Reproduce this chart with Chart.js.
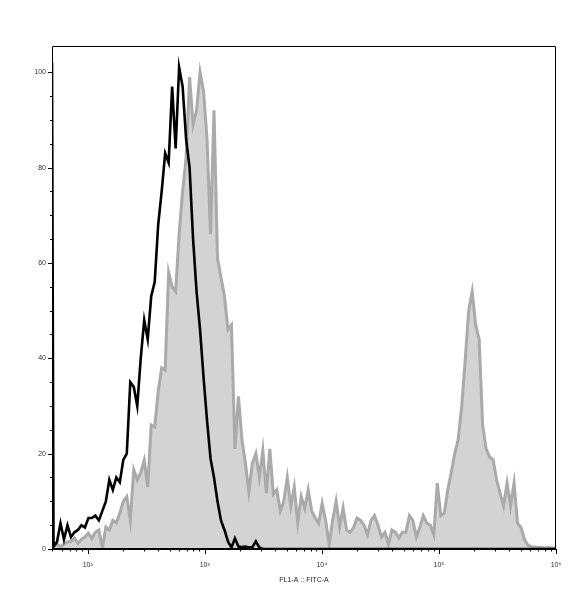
<!DOCTYPE html>
<html>
<head>
<meta charset="utf-8">
<script src="https://cdn.jsdelivr.net/npm/chart.js@4.4.1/dist/chart.umd.min.js"></script>
<style>
  html, body { margin: 0; padding: 0; background: #fff; }
  canvas { display: block; }
</style>
</head>
<body>
<canvas id="histChart" width="571" height="600"></canvas>
<script>
// log10 of FL1-A (FITC-A) intensity, one entry per histogram bin
const logBins = [
  1.695,
  1.7080, 1.7378, 1.7676, 1.7974, 1.8272, 1.8570, 1.8868, 1.9166, 1.9464, 1.9762,
  2.0060, 2.0358, 2.0656, 2.0954, 2.1252, 2.1550, 2.1848, 2.2146, 2.2444, 2.2742,
  2.3040, 2.3338, 2.3636, 2.3934, 2.4232, 2.4530, 2.4828, 2.5126, 2.5424, 2.5722,
  2.6020, 2.6318, 2.6616, 2.6914, 2.7212, 2.7510, 2.7808, 2.8106, 2.8404, 2.8702,
  2.9000, 2.9298, 2.9596, 2.9894, 3.0192, 3.0490, 3.0788, 3.1086, 3.1384, 3.1682,
  3.1980, 3.2278, 3.2576, 3.2874, 3.3172, 3.3470, 3.3768, 3.4066, 3.4364, 3.4662,
  3.4960, 3.5258, 3.5556, 3.5854, 3.6152, 3.6450, 3.6748, 3.7046, 3.7344, 3.7642,
  3.7940, 3.8238, 3.8536, 3.8834, 3.9132, 3.9430, 3.9728, 4.0026, 4.0324, 4.0622,
  4.0920, 4.1218, 4.1516, 4.1814, 4.2112, 4.2410, 4.2708, 4.3006, 4.3304, 4.3602,
  4.3900, 4.4198, 4.4496, 4.4794, 4.5092, 4.5390, 4.5688, 4.5986, 4.6284, 4.6582,
  4.6880, 4.7178, 4.7476, 4.7774, 4.8072, 4.8370, 4.8668, 4.8966, 4.9264, 4.9562,
  4.9860, 5.0158, 5.0456, 5.0754, 5.1052, 5.1350, 5.1648, 5.1946, 5.2244, 5.2542,
  5.2840, 5.3138, 5.3436, 5.3734, 5.4032, 5.4330, 5.4628, 5.4926, 5.5224, 5.5522,
  5.5820, 5.6118, 5.6416, 5.6714, 5.7012, 5.7310, 5.7608, 5.7906, 5.8204, 5.8502,
  5.8800, 5.9098, 5.9396, 5.9694, 5.9992
];

// stained sample (grey filled), % of max
const stainedCounts = [
  0.5,
  0.5, 1, 0.5, 1, 1.5, 1.5, 2.3, 1.2, 2, 2.5,
  3.3, 2.2, 3.5, 4, 0.2, 4.6, 4, 6, 5.5, 7.5,
  10, 11, 6, 16.6, 14.5, 16, 18.6, 13, 26, 25.6,
  33, 38, 37.5, 58, 55, 54, 66, 75, 82, 99,
  89, 92, 100, 96, 86, 66, 92, 61, 57, 53,
  46, 47, 21, 32, 23, 18, 12, 18, 20, 15,
  20.7, 11.7, 21, 11.5, 12.4, 8, 10, 15, 9, 13,
  5.5, 11, 8.5, 12.4, 8, 6.5, 5.4, 9.6, 6, 1,
  6, 10, 4.6, 8.6, 4, 3.5, 4.5, 6.5, 6, 5,
  3, 6, 7, 5, 2.5, 3.5, 1, 4, 3.5, 2.3,
  3.5, 3.5, 7, 6, 2.5, 4.6, 7, 5.4, 5, 3,
  13.8, 7, 7.5, 12.4, 16, 20, 23, 30, 39.6, 50,
  54, 47, 44, 26, 21, 19.3, 18.7, 14.5, 11.7, 9,
  13.8, 9, 13.8, 5.4, 4.5, 2, 0.8, 0.5, 0.4, 0.3,
  0.3, 0.2, 0.3, 0.2, 0.2
];

// control (black line), % of max
const controlCounts = [
  102,
  0.5, 1.5, 5.4, 2, 5, 2.5, 3.5, 4, 5, 4.5,
  6.5, 6.5, 7, 6, 8, 10, 14.5, 12.4, 15, 14,
  18.7, 20, 35, 34, 30, 40, 48, 44, 53, 56,
  68, 75, 83, 81, 97, 84, 101, 97, 86, 80,
  65, 54, 46, 36, 27, 19, 15, 10, 6, 4,
  1.6, 0.3, 2.2, 0.5, 0.4, 0.5, 0.3, 0.4, 1.6, 0.3,
  0, 0, 0, 0, 0, 0, 0, 0, 0, 0, 0, 0, 0, 0, 0, 0, 0,
  0, 0, 0, 0, 0, 0, 0, 0, 0, 0, 0, 0, 0, 0, 0, 0, 0,
  0, 0, 0, 0, 0, 0, 0, 0, 0, 0, 0, 0, 0, 0, 0, 0, 0,
  0, 0, 0, 0, 0, 0, 0, 0, 0, 0, 0, 0, 0, 0, 0, 0, 0,
  0, 0, 0, 0, 0, 0, 0, 0, 0, 0, 0, 0, 0, 0, 0, 0, 0
];

const decadeLabels = { 2: "10\u00B2", 3: "10\u00B3", 4: "10\u2074", 5: "10\u2075", 6: "10\u2076" };
const yLabelStep = 20;
const xTitle = "FL1-A :: FITC-A";

const X_MIN = 1.695, X_MAX = 6.0;
const Y_MIN = 0, Y_MAX = 105.5;

const toPoints = (ys) => ys.map((y, i) => ({ x: logBins[i], y: y }));

const isDecade = (v) => Math.abs(v - Math.round(v)) < 1e-6;

// frame + tick marks (short for minor, longer for major)
const axesDecor = {
  id: "axesDecor",
  afterDraw(chart) {
    const { ctx, chartArea: a, scales } = chart;
    ctx.save();
    ctx.strokeStyle = "#000";
    ctx.lineWidth = 1;
    ctx.beginPath();
    ctx.moveTo(a.left + 0.5, a.bottom);
    ctx.lineTo(a.left + 0.5, a.top + 0.5);
    ctx.lineTo(a.right - 0.5, a.top + 0.5);
    ctx.lineTo(a.right - 0.5, a.bottom);
    ctx.stroke();
    ctx.lineWidth = 2;
    ctx.beginPath();
    ctx.moveTo(a.left, a.bottom);
    ctx.lineTo(a.right, a.bottom);
    ctx.stroke();

    ctx.lineWidth = 1;
    ctx.beginPath();
    scales.x.ticks.forEach(t => {
      const px = Math.round(scales.x.getPixelForValue(t.value)) + 0.5;
      const len = isDecade(t.value) ? 5 : 2.5;
      ctx.moveTo(px, a.bottom);
      ctx.lineTo(px, a.bottom + len);
    });
    scales.y.ticks.forEach(t => {
      const py = Math.round(scales.y.getPixelForValue(t.value)) + 0.5;
      const len = t.value % yLabelStep === 0 ? 4 : 2;
      ctx.moveTo(a.left, py);
      ctx.lineTo(a.left - len, py);
    });
    ctx.stroke();
    ctx.restore();
  }
};

new Chart(document.getElementById("histChart"), {
  type: "line",
  data: {
    datasets: [
      {
        label: "Control",
        data: toPoints(controlCounts),
        borderColor: "#000",
        borderWidth: 2.6,
        fill: false,
        pointRadius: 0,
        tension: 0
      },
      {
        label: "Stained",
        data: toPoints(stainedCounts),
        borderColor: "#aaaaaa",
        borderWidth: 3,
        backgroundColor: "#d3d3d3",
        fill: "origin",
        pointRadius: 0,
        tension: 0
      }
    ]
  },
  plugins: [axesDecor],
  options: {
    responsive: false,
    animation: false,
    layout: { padding: { left: 0, right: 15, top: 46, bottom: 0 } },
    plugins: { legend: { display: false }, tooltip: { enabled: false } },
    scales: {
      x: {
        type: "linear",
        min: X_MIN,
        max: X_MAX,
        afterBuildTicks(scale) {
          const vals = [];
          for (let n = 1; n <= 5; n++) {
            for (let k = 1; k <= 9; k++) {
              const v = n + Math.log10(k);
              if (v >= X_MIN - 1e-9 && v <= X_MAX) vals.push(v);
            }
          }
          vals.push(6);
          scale.ticks = vals.map(v => ({ value: v }));
        },
        afterFit(scale) { scale.height = 51; },
        border: { display: false },
        grid: { display: false, drawTicks: true, tickLength: 5 },
        ticks: {
          autoSkip: false,
          maxRotation: 0,
          padding: 7,
          color: "#333",
          font: { family: "Liberation Sans, Arial, sans-serif", size: 7 },
          callback: (v) => isDecade(v) ? decadeLabels[Math.round(v)] || "" : ""
        },
        title: {
          display: true,
          text: xTitle,
          color: "#222",
          font: { family: "Liberation Sans, Arial, sans-serif", size: 7 },
          padding: { top: 0, bottom: 16 }
        }
      },
      y: {
        min: Y_MIN,
        max: Y_MAX,
        afterBuildTicks(scale) {
          const vals = [];
          for (let v = 0; v <= 100; v += 5) vals.push(v);
          scale.ticks = vals.map(v => ({ value: v }));
        },
        afterFit(scale) { scale.width = 52; },
        border: { display: false },
        grid: { display: false, drawTicks: true, tickLength: 4 },
        ticks: {
          autoSkip: false,
          padding: 2,
          color: "#333",
          font: { family: "Liberation Sans, Arial, sans-serif", size: 7 },
          callback: (v) => v % yLabelStep === 0 ? String(v) : ""
        }
      }
    }
  }
});
</script>
</body>
</html>
